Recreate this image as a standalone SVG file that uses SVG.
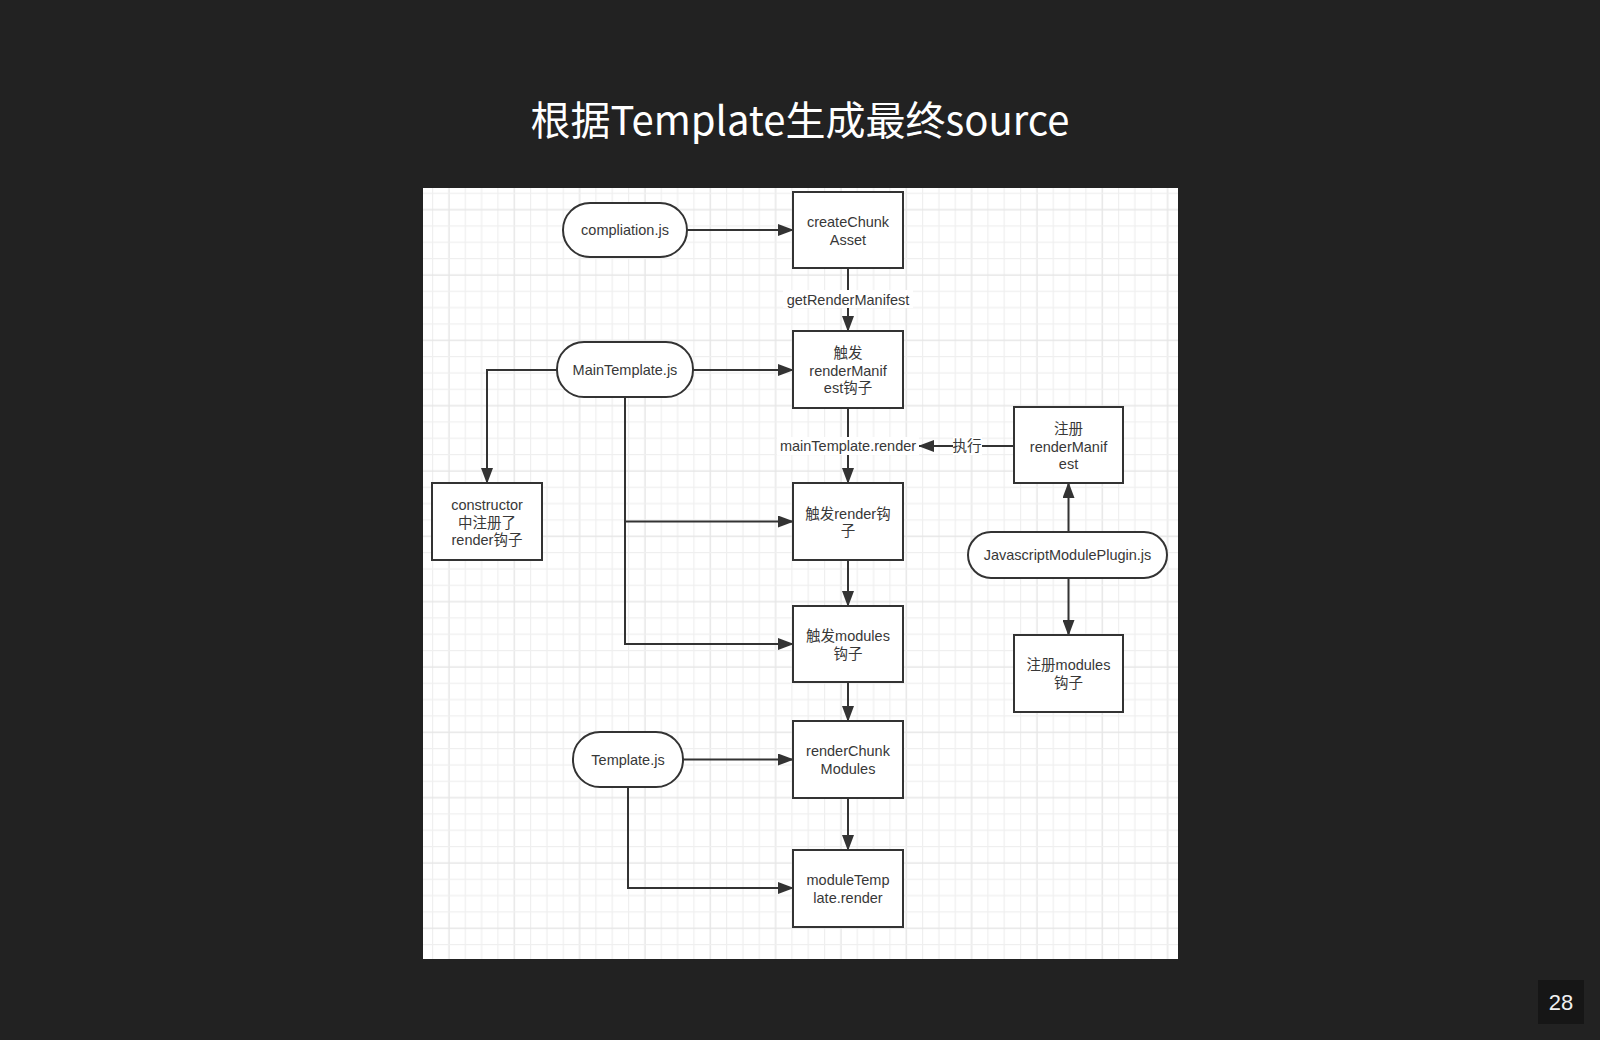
<svg xmlns="http://www.w3.org/2000/svg" width="1600" height="1040" viewBox="0 0 1600 1040">
<style>
.title{font-family:"Noto Sans CJK SC","Noto Sans",sans-serif;font-size:40px;fill:#ffffff}
.pg{font-family:"Liberation Sans","Noto Sans",sans-serif;font-size:22px;fill:#f0f0f0}
.nd{fill:#ffffff;stroke:#333333;stroke-width:2}
.t{font-family:"Liberation Sans","Noto Sans CJK SC",sans-serif;font-size:14.5px;fill:#383838;text-anchor:middle}
.c{fill:none;stroke:#333333;stroke-width:2}
.lb{fill:#ffffff}
</style>
<defs>
<marker id="ah" markerWidth="16" markerHeight="12" refX="15" refY="6" orient="auto" markerUnits="userSpaceOnUse">
<path d="M0,0 L16,6 L0,12 Z" fill="#333333"/>
</marker>
<pattern id="grid" x="432" y="192.7" width="65.33" height="65.33" patternUnits="userSpaceOnUse">
<rect x="0" y="0" width="1.2" height="65.33" fill="#efefef"/>
<rect x="16.33" y="0" width="1.4" height="65.33" fill="#e6e6e6"/>
<rect x="32.67" y="0" width="1.2" height="65.33" fill="#efefef"/>
<rect x="49" y="0" width="1.2" height="65.33" fill="#efefef"/>
<rect x="0" y="0" width="65.33" height="1.2" fill="#efefef"/>
<rect x="0" y="16.33" width="65.33" height="1.4" fill="#e6e6e6"/>
<rect x="0" y="32.67" width="65.33" height="1.2" fill="#efefef"/>
<rect x="0" y="49" width="65.33" height="1.2" fill="#efefef"/>
</pattern>
</defs>
<rect x="0" y="0" width="1600" height="1040" fill="#222222"/>
<text class="title" x="800" y="135" text-anchor="middle">根据Template生成最终source</text>
<rect x="1538" y="980" width="46" height="44" fill="#161616"/>
<text class="pg" x="1561" y="1010" text-anchor="middle">28</text>

<rect x="423" y="188" width="755" height="771" fill="#ffffff"/>
<rect x="423" y="188" width="755" height="771" fill="url(#grid)"/>

<g id="connectors">
<path class="c" d="M687,230 H793" marker-end="url(#ah)"/>
<path class="c" d="M848,268 V331" marker-end="url(#ah)"/>
<path class="c" d="M693,370 H793" marker-end="url(#ah)"/>
<path class="c" d="M557,370 H487 V483" marker-end="url(#ah)"/>
<path class="c" d="M625,397 V644 H793" marker-end="url(#ah)"/>
<path class="c" d="M625,521.5 H793" marker-end="url(#ah)"/>
<path class="c" d="M848,408 V483" marker-end="url(#ah)"/>
<path class="c" d="M1014,446 H919" marker-end="url(#ah)"/>
<path class="c" d="M848,560 V606" marker-end="url(#ah)"/>
<path class="c" d="M848,682 V721" marker-end="url(#ah)"/>
<path class="c" d="M848,798 V850" marker-end="url(#ah)"/>
<path class="c" d="M1068.5,532 V483" marker-end="url(#ah)"/>
<path class="c" d="M1068.5,578 V635" marker-end="url(#ah)"/>
<path class="c" d="M683,759.5 H793" marker-end="url(#ah)"/>
<path class="c" d="M628,787 V888 H793" marker-end="url(#ah)"/>
<rect class="lb" x="783" y="290" width="130" height="18"/>
<text class="t" x="848" y="305">getRenderManifest</text>
<rect class="lb" x="777" y="437" width="142" height="18"/>
<text class="t" x="848" y="451">mainTemplate.render</text>
<rect class="lb" x="953" y="437" width="29" height="18"/>
<text class="t" x="967" y="451">执行</text>
</g>

<g id="n-compliation">
<rect class="nd" x="563" y="203" width="124" height="54" rx="27"/>
<text class="t" x="625" y="235">compliation.js</text>
</g>
<g id="n-createChunkAsset">
<rect class="nd" x="793" y="192" width="110" height="76"/>
<text class="t" x="848" y="227">createChunk</text>
<text class="t" x="848" y="244.5">Asset</text>
</g>
<g id="n-trigger-renderManifest">
<rect class="nd" x="793" y="331" width="110" height="77"/>
<text class="t" x="848" y="358">触发</text>
<text class="t" x="848" y="375.5">renderManif</text>
<text class="t" x="848" y="393">est钩子</text>
</g>
<g id="n-mainTemplate">
<rect class="nd" x="557" y="342" width="136" height="55" rx="27"/>
<text class="t" x="625" y="375">MainTemplate.js</text>
</g>
<g id="n-register-renderManifest">
<rect class="nd" x="1014" y="407" width="109" height="76"/>
<text class="t" x="1068.5" y="434">注册</text>
<text class="t" x="1068.5" y="451.5">renderManif</text>
<text class="t" x="1068.5" y="469">est</text>
</g>
<g id="n-constructor">
<rect class="nd" x="432" y="483" width="110" height="77"/>
<text class="t" x="487" y="510">constructor</text>
<text class="t" x="487" y="527.5">中注册了</text>
<text class="t" x="487" y="545">render钩子</text>
</g>
<g id="n-trigger-render">
<rect class="nd" x="793" y="483" width="110" height="77"/>
<text class="t" x="848" y="518.5">触发render钩</text>
<text class="t" x="848" y="536">子</text>
</g>
<g id="n-jsModulePlugin">
<rect class="nd" x="968" y="532" width="199" height="46" rx="23"/>
<text class="t" x="1067.5" y="560">JavascriptModulePlugin.js</text>
</g>
<g id="n-trigger-modules">
<rect class="nd" x="793" y="606" width="110" height="76"/>
<text class="t" x="848" y="641">触发modules</text>
<text class="t" x="848" y="658.5">钩子</text>
</g>
<g id="n-register-modules">
<rect class="nd" x="1014" y="635" width="109" height="77"/>
<text class="t" x="1068.5" y="670">注册modules</text>
<text class="t" x="1068.5" y="687.5">钩子</text>
</g>
<g id="n-template">
<rect class="nd" x="573" y="732" width="110" height="55" rx="27"/>
<text class="t" x="628" y="765">Template.js</text>
</g>
<g id="n-renderChunkModules">
<rect class="nd" x="793" y="721" width="110" height="77"/>
<text class="t" x="848" y="756">renderChunk</text>
<text class="t" x="848" y="773.5">Modules</text>
</g>
<g id="n-moduleTemplateRender">
<rect class="nd" x="793" y="850" width="110" height="77"/>
<text class="t" x="848" y="885">moduleTemp</text>
<text class="t" x="848" y="902.5">late.render</text>
</g>
</svg>
